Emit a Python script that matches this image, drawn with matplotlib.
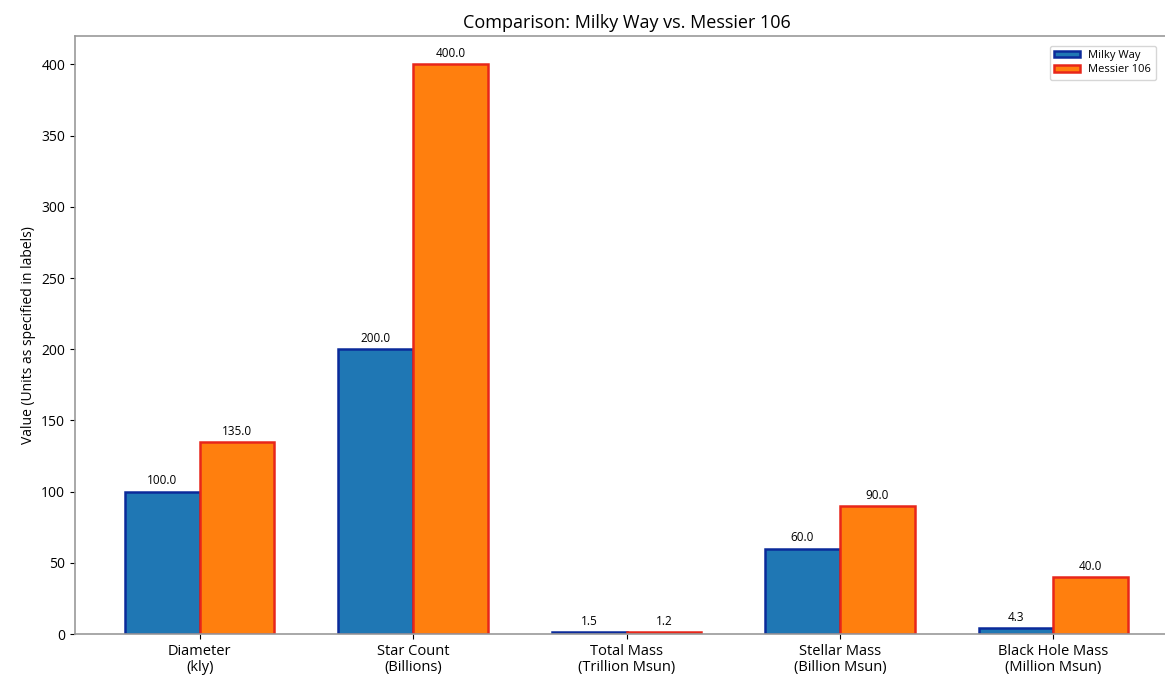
import matplotlib
matplotlib.use("Agg")
import matplotlib.pyplot as plt
import numpy as np

plt.rcParams['font.family'] = ['Open Sans', 'DejaVu Sans']

categories = ["Diameter\n(kly)", "Star Count\n(Billions)", "Total Mass\n(Trillion Msun)",
              "Stellar Mass\n(Billion Msun)", "Black Hole Mass\n(Million Msun)"]
milky_way = [100.0, 200.0, 1.5, 60.0, 4.3]
messier_106 = [135.0, 400.0, 1.2, 90.0, 40.0]
series_names = ["Milky Way", "Messier 106"]

fig = plt.figure(figsize=(11.65, 6.77), dpi=100)
ax = fig.add_axes([75/1165, 43/677, (1178-75)/1165, (634-36)/677])

x = np.arange(len(categories))
w = 0.35
b1 = ax.bar(x - w/2, milky_way, w, label=series_names[0], color="#1f77b4",
            edgecolor="#0b2a9a", linewidth=1.8)
b2 = ax.bar(x + w/2, messier_106, w, label=series_names[1], color="#ff7f0e",
            edgecolor="#e8261a", linewidth=1.8)

for bars, vals in ((b1, milky_way), (b2, messier_106)):
    for rect, v in zip(bars, vals):
        ax.annotate(f"{v:.1f}", (rect.get_x() + rect.get_width()/2, rect.get_height()),
                    xytext=(0, 3), textcoords="offset points", ha="center", va="bottom",
                    fontsize=8.5)

ax.set_xticks(x)
ax.set_xticklabels(categories, fontsize=10.5, linespacing=1.1)
ax.tick_params(axis='y', labelsize=10)
ax.set_ylabel("Value (Units as specified in labels)", fontsize=10)
ax.set_title("Comparison: Milky Way vs. Messier 106", fontsize=13)
for s in ax.spines.values():
    s.set_color("#999999")
    s.set_linewidth(1.2)
ax.legend(loc="upper left", bbox_to_anchor=(1044/1165, 1 - 40/677),
          bbox_transform=fig.transFigure, fontsize=8, labelspacing=0.3,
          handlelength=2.3, handleheight=0.5)

fig.savefig("out.png", dpi=100)
